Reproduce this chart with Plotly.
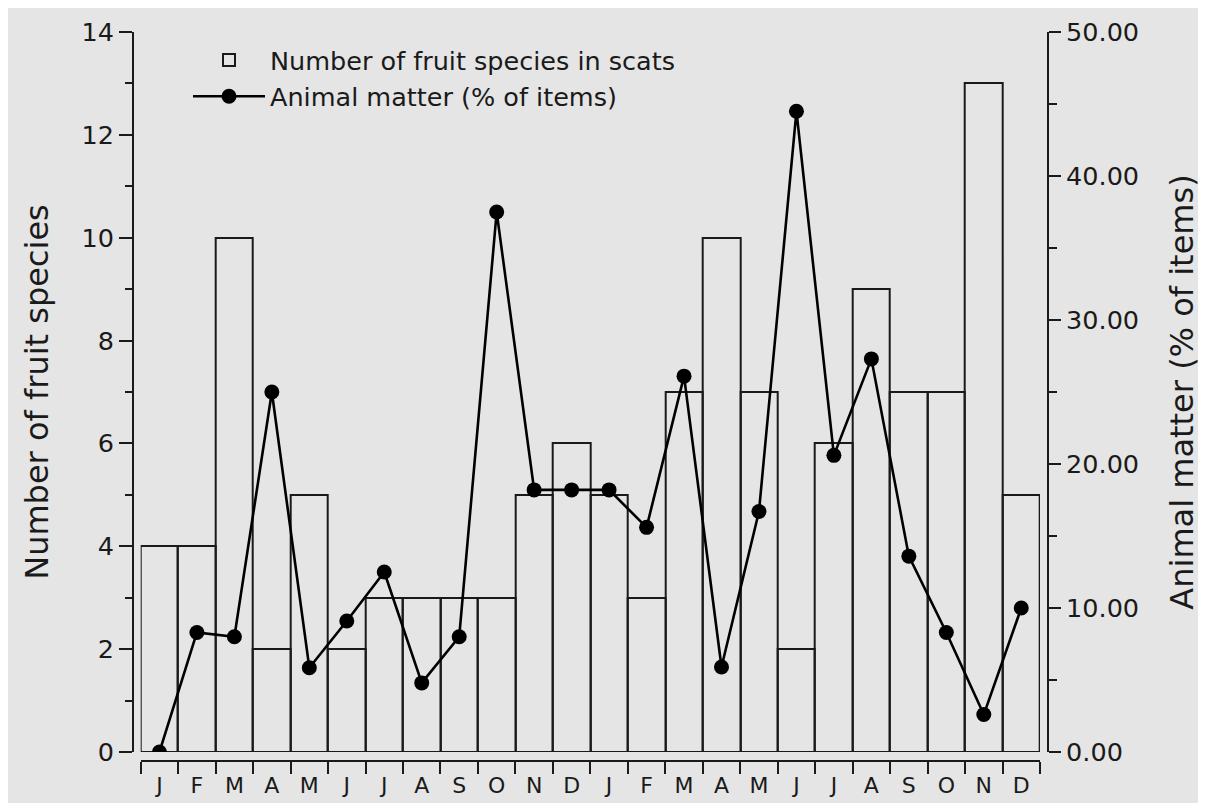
import plotly.graph_objects as go

months = ["J", "F", "M", "A", "M", "J", "J", "A", "S", "O", "N", "D",
          "J", "F", "M", "A", "M", "J", "J", "A", "S", "O", "N", "D"]
fruit_species = [4, 4, 10, 2, 5, 2, 3, 3, 3, 3, 5, 6,
                 5, 3, 7, 10, 7, 2, 6, 9, 7, 7, 13, 5]
animal_matter = [0.0, 8.3, 8.0, 25.0, 5.85, 9.1, 12.5, 4.8, 8.0, 37.5, 18.2, 18.2,
                 18.2, 15.6, 26.1, 5.9, 16.7, 44.5, 20.6, 27.3, 13.6, 8.3, 2.6, 10.0]

x_idx = list(range(len(months)))
boundaries = [i - 0.5 for i in range(len(months) + 1)]

# page offset (body margin) of 8px: figure coordinates = screen - 8
OFF = 8
W, H = 1198, 795
L, R, T, B = 133 - OFF, 1048 - OFF, 32 - OFF, 761 - OFF
pw, ph = R - L, B - T

def px_x(p):
    return (p - OFF - L) / pw

def px_y(p):
    return 1 - (p - OFF - T) / ph

FONT = "DejaVu Sans"
INK = "#1a1a1a"
BG = "#e5e5e5"

fig = go.Figure()
fig.add_trace(go.Bar(
    x=x_idx, y=fruit_species, name="Number of fruit species in scats",
    marker=dict(color="rgba(0,0,0,0)", line=dict(color=INK, width=2)),
    xaxis="x", yaxis="y",
))
fig.add_trace(go.Scatter(
    x=x_idx, y=animal_matter, name="Animal matter (% of items)",
    mode="lines+markers",
    line=dict(color="black", width=2.6),
    marker=dict(color="black", size=15),
    xaxis="x", yaxis="y2",
))

ydom = [px_y(752), 1]
xdom = [px_x(140.7), px_x(1040)]

fig.update_layout(
    width=W, height=H, autosize=False,
    margin=dict(l=L, r=W - R, t=T, b=H - B, pad=0, autoexpand=False),
    paper_bgcolor=BG, plot_bgcolor=BG,
    font=dict(family=FONT, color=INK, size=25),
    bargap=0,
    showlegend=True,
    legend=dict(x=px_x(188), xanchor="left", y=px_y(37), yanchor="top",
                bgcolor="rgba(0,0,0,0)", font=dict(size=25.5, family=FONT, color=INK),
                itemwidth=72, tracegroupgap=0),
    xaxis=dict(
        domain=xdom, anchor="free", position=0, automargin=False,
        range=[-0.5, len(months) - 0.5],
        tickmode="array", tickvals=x_idx, ticktext=months,
        ticks="outside", ticklen=5, tickcolor="rgba(0,0,0,0)", tickwidth=2,
        tickfont=dict(size=22),
        minor=dict(tickmode="array", tickvals=boundaries, ticks="outside",
                   ticklen=12, tickwidth=2, tickcolor=INK, showgrid=False),
        showline=True, linecolor=INK, linewidth=2,
        showgrid=False, zeroline=False,
    ),
    yaxis=dict(
        domain=ydom, anchor="free", position=0, automargin=False,
        range=[0, 14], tickmode="linear", tick0=0, dtick=2,
        ticks="outside", ticklen=13, tickwidth=2, tickcolor=INK,
        minor=dict(dtick=1, ticks="outside", ticklen=7, tickwidth=2,
                   tickcolor=INK, showgrid=False),
        showline=True, linecolor=INK, linewidth=2,
        showgrid=False, zeroline=False,
        tickfont=dict(size=25.5),
        title=dict(text="Number of fruit species", font=dict(size=32), standoff=22),
    ),
    yaxis2=dict(
        overlaying="y", side="right", anchor="free", position=1, automargin=False,
        range=[0, 50], tickmode="linear", tick0=0, dtick=10, tickformat=".2f",
        ticks="outside", ticklen=12, tickwidth=2, tickcolor=INK,
        minor=dict(dtick=5, ticks="outside", ticklen=8, tickwidth=2,
                   tickcolor=INK, showgrid=False),
        showline=True, linecolor=INK, linewidth=2,
        showgrid=False, zeroline=False,
        tickfont=dict(size=25.5),
        title=dict(text="Animal matter (% of items)", font=dict(size=32), standoff=31),
    ),
)

fig.write_html("out.html")
